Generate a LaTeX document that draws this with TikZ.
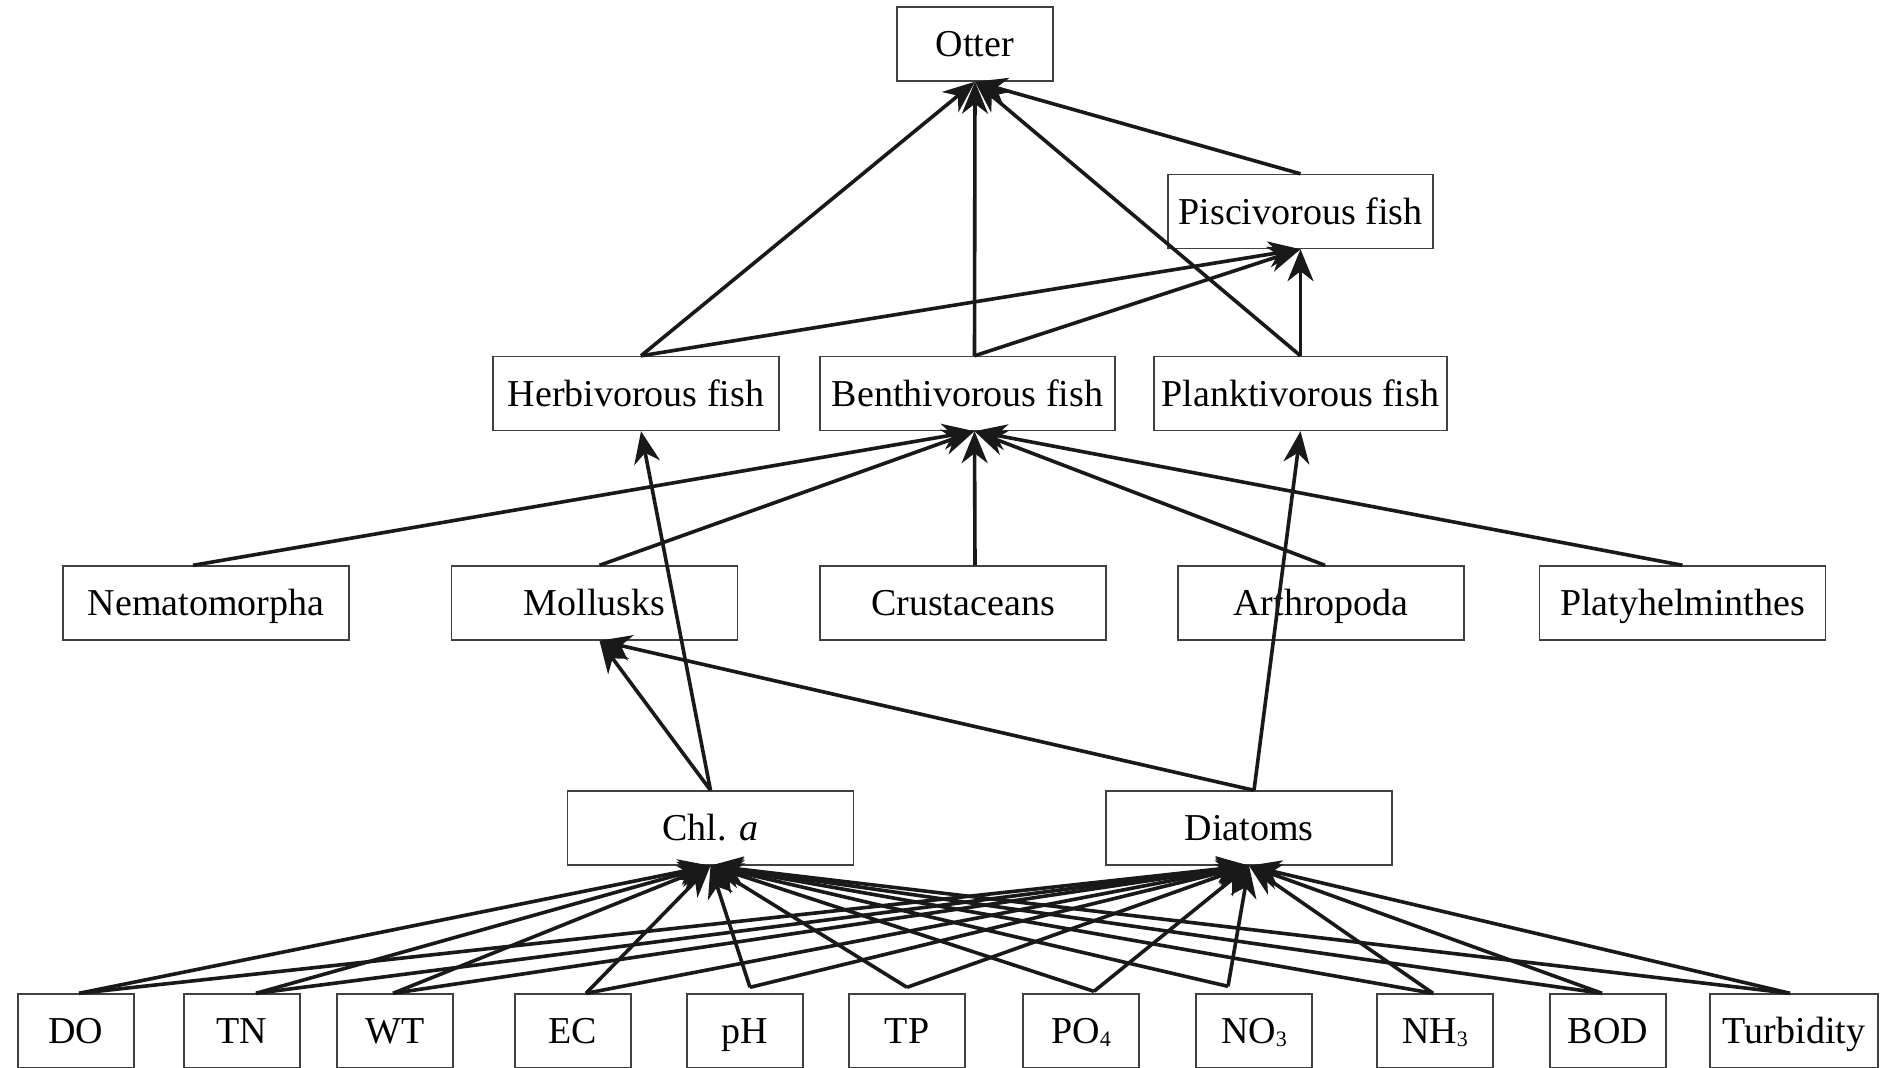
\documentclass[tikz,border=0pt]{standalone}
\usepackage{fontspec}
\setmainfont{Liberation Serif}
\usetikzlibrary{arrows.meta,calc}
\newcommand{\lowsub}[1]{{\fontsize{11}{11}\selectfont\raisebox{-1.5pt}{#1}}}
\begin{document}
\begin{tikzpicture}[x=0.5pt,y=-0.5pt,
  box/.style={draw=black!75,line width=0.7pt,minimum height=37pt,inner sep=0pt,text height=15pt,text depth=2.4pt,font=\fontsize{19}{22}\selectfont},
  wbox/.style={box,minimum width=143pt},
  sbox/.style={box,minimum width=58pt},
  arr/.style={-{Stealth[length=16pt,width=13pt,inset=5pt]},line width=1.8pt,black!90}]
\useasboundingbox (0,0) rectangle (1896,1067);
\clip (0,0) rectangle (1896,1067);
\fill[white] (0,0) rectangle (1896,1067);
% level 1-2
\node[box,minimum width=78pt] (Ott) at (975,44) {Otter};
\node[box,minimum width=132.5pt] (Pis) at (1300.5,211.5) {Piscivorous fish};
\node[wbox] (Her) at (636,393.5) {Herbivorous fish};
\node[box,minimum width=147.5pt] (Ben) at (967.5,393.5) {Benthivorous fish};
\node[box,minimum width=146.5pt] (Pla) at (1300.5,393.5) {Planktivorous fish};
% level 3
\node[wbox] (Nem) at (206,603) {Nematomorpha};
\node[wbox] (Mol) at (594.5,603) {Mollusks};
\node[wbox] (Cru) at (963,603) {Crustaceans};
\node[wbox] (Art) at (1321,603) {Arthropoda};
\node[wbox] (Pty) at (1682.5,603) {Platyhelminthes};
% level 4
\node[wbox] (Chl) at (710.5,828) {Chl. \textit{a}};
\node[wbox] (Dia) at (1249,828) {Diatoms};
% level 5
\node[sbox] (DO) at (76,1031) {DO};
\node[sbox] (TN) at (242,1031) {TN};
\node[sbox] (WT) at (395,1031) {WT};
\node[sbox] (EC) at (573,1031) {EC};
\node[sbox] (pH) at (745,1031) {pH};
\node[sbox] (TP) at (907,1031) {TP};
\node[sbox] (PO) at (1081,1031) {PO\lowsub{4}};
\node[sbox] (NO) at (1254,1031) {NO\lowsub{3}};
\node[sbox] (NH) at (1435,1031) {NH\lowsub{3}};
\node[sbox] (BOD) at (1608,1031) {BOD};
\node[box,minimum width=84pt] (Tur) at (1794,1031) {Turbidity};
% edges: bottom -> Chl a, Diatoms
\foreach \n/\dx/\dy in {DO/3/0,TN/14/0,WT/-2/0,EC/13/0,pH/5/-6,TP/0/-6,PO/13/-2,NO/-26/-7,NH/-2/0,BOD/-6/0,Tur/-4/0}{
  \draw[arr] ($(\n.north)+(\dx,\dy)$) -- (Chl.south);
  \draw[arr] ($(\n.north)+(\dx,\dy)$) -- (Dia.south);
}
% level 4 -> above
\draw[arr] (Chl.north) -- ($(Her.south)+(5,0)$);
\draw[arr] (Chl.north) -- ($(Mol.south)+(5,0)$);
\draw[arr] ($(Dia.north)+(5,0)$) -- ($(Mol.south)+(5,0)$);
\draw[arr] ($(Dia.north)+(5,0)$) -- (Pla.south);
% level 3 -> Benthivorous
\draw[arr] ($(Nem.north)+(-13,0)$) -- ($(Ben.south)+(7,0)$);
\draw[arr] ($(Mol.north)+(5,0)$) -- ($(Ben.south)+(7,0)$);
\draw[arr] ($(Cru.north)+(12,0)$) -- ($(Ben.south)+(7,0)$);
\draw[arr] ($(Art.north)+(4,0)$) -- ($(Ben.south)+(7,0)$);
\draw[arr] (Pty.north) -- ($(Ben.south)+(7,0)$);
% fish -> Piscivorous, Otter
\draw[arr] ($(Her.north)+(5,0)$) -- (Pis.south);
\draw[arr] ($(Ben.north)+(7,0)$) -- (Pis.south);
\draw[arr] (Pla.north) -- (Pis.south);
\draw[arr] ($(Her.north)+(5,0)$) -- (Ott.south);
\draw[arr] ($(Ben.north)+(7,0)$) -- (Ott.south);
\draw[arr] (Pla.north) -- (Ott.south);
\draw[arr] (Pis.north) -- (Ott.south);
\end{tikzpicture}
\end{document}
